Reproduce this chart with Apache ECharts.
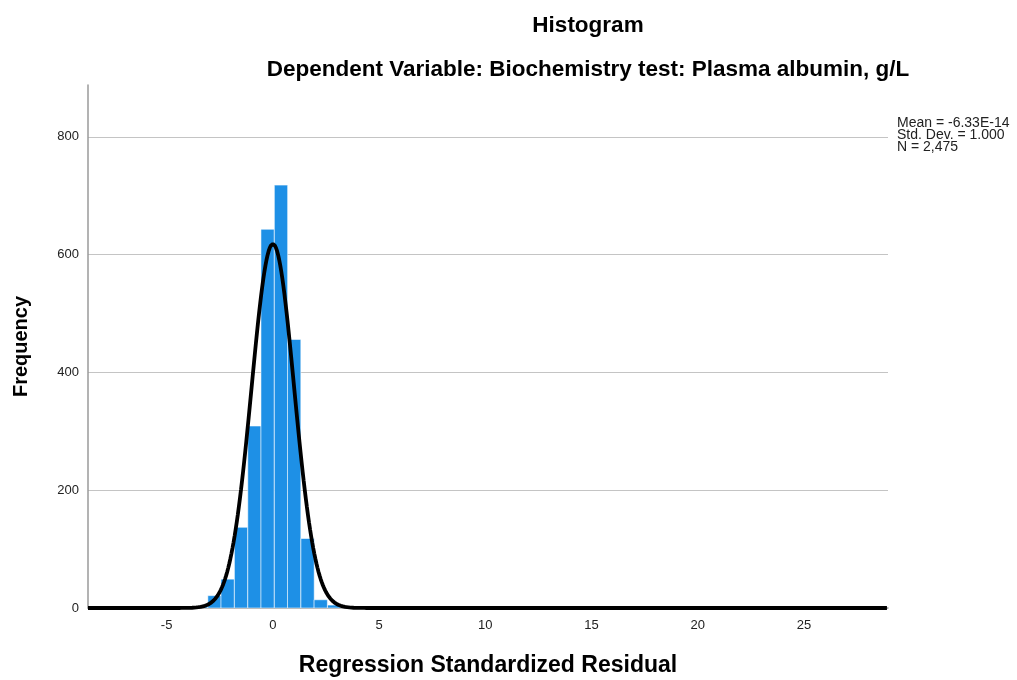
<!DOCTYPE html>
<html>
<head>
<meta charset="utf-8">
<title>Histogram</title>
<script src="https://cdn.jsdelivr.net/npm/echarts@6/dist/echarts.min.js"></script>
<style>
  html, body { margin: 0; padding: 0; background: #ffffff; }
  #histChart { width: 1017px; height: 680px; }
</style>
</head>
<body>
<div id="histChart"></div>
<script>
  // bin lower edges and counts
  var binStarts = [-3.69, -3.06, -2.44, -1.81, -1.18, -0.56, 0.07, 0.69, 1.32, 1.94, 2.57, 3.19, 27.0];
  var binCounts = [3, 21, 49, 137, 309, 643, 718, 456, 118, 14, 5, 1, 1];
  var binWidth = 0.626;

  // stats printed next to the plot
  var statMean = -6.33e-14;
  var statSd = 1.0;
  var statN = 2475;
  var statLines = ['Mean = -6.33E-14', 'Std. Dev. = 1.000', 'N = 2,475'];

  var xTicks = [-5, 0, 5, 10, 15, 20, 25];
  var yTicks = [0, 200, 400, 600, 800];

  var fontName = "'Liberation Sans', Arial, sans-serif";

  var barData = [];
  for (var i = 0; i < binStarts.length; i++) {
    barData.push([binStarts[i], binStarts[i] + binWidth, binCounts[i]]);
  }

  // normal curve from the printed mean / sd / N
  var curveData = [];
  for (var x = -8.7; x <= 28.95; x += 0.05) {
    var z = (x - statMean) / statSd;
    var y = statN * binWidth * Math.exp(-0.5 * z * z) / (statSd * Math.sqrt(2 * Math.PI));
    curveData.push([x, y]);
  }

  var myChart = echarts.init(document.getElementById('histChart'));
  var option = {
    backgroundColor: '#ffffff',
    animation: false,
    textStyle: { fontFamily: fontName },
    title: [
      {
        text: 'Histogram',
        left: 583, top: 9, textAlign: 'center',
        textStyle: { fontSize: 22.5, fontWeight: 'bold', color: '#000', fontFamily: fontName }
      },
      {
        text: 'Dependent Variable: Biochemistry test: Plasma albumin, g/L',
        left: 583, top: 53, textAlign: 'center',
        textStyle: { fontSize: 22.5, fontWeight: 'bold', color: '#000', fontFamily: fontName }
      }
    ],
    graphic: [
      {
        type: 'text',
        left: 897, top: 116,
        style: {
          text: statLines.join('\n'),
          fontSize: 14, lineHeight: 12,
          fill: '#222', fontFamily: fontName
        }
      }
    ],
    grid: { left: 88, right: 129, top: 85, bottom: 72, outerBoundsMode: 'none' },
    xAxis: {
      type: 'value',
      min: -8.7, max: 28.95,
      name: 'Regression Standardized Residual',
      nameLocation: 'middle', nameGap: 46,
      nameTextStyle: { fontSize: 23, fontWeight: 'bold', color: '#000', fontFamily: fontName },
      axisLine: { show: true, onZero: false, lineStyle: { color: '#9a9a9a', width: 1.5 } },
      axisTick: { show: false },
      splitLine: { show: false },
      axisLabel: { customValues: xTicks, fontSize: 13, color: '#222', margin: 11 }
    },
    yAxis: {
      type: 'value',
      min: 0, max: 888, interval: 200,
      name: 'Frequency',
      nameLocation: 'middle', nameGap: 57,
      nameTextStyle: { fontSize: 20, fontWeight: 'bold', color: '#000', fontFamily: fontName },
      axisLine: { show: true, onZero: false, lineStyle: { color: '#9a9a9a', width: 1.5 } },
      axisTick: { show: false },
      splitLine: { show: true, showMaxLine: false, lineStyle: { color: '#c4c4c4', width: 1 } },
      axisLabel: { customValues: yTicks, fontSize: 13, color: '#222', margin: 9 }
    },
    series: [
      {
        type: 'custom',
        data: barData,
        encode: { x: [0, 1], y: 2 },
        renderItem: function (params, api) {
          var p0 = api.coord([api.value(0), api.value(2)]);
          var p1 = api.coord([api.value(1), 0]);
          return {
            type: 'rect',
            shape: { x: p0[0], y: p0[1], width: p1[0] - p0[0], height: p1[1] - p0[1] },
            style: { fill: '#1e90e6', stroke: 'rgba(255,255,255,0.55)', lineWidth: 1 }
          };
        },
        z: 2
      },
      {
        type: 'line',
        data: curveData,
        showSymbol: false,
        smooth: false,
        lineStyle: { color: '#000', width: 3.8 },
        z: 3
      }
    ]
  };
  myChart.setOption(option, true);
</script>
</body>
</html>
